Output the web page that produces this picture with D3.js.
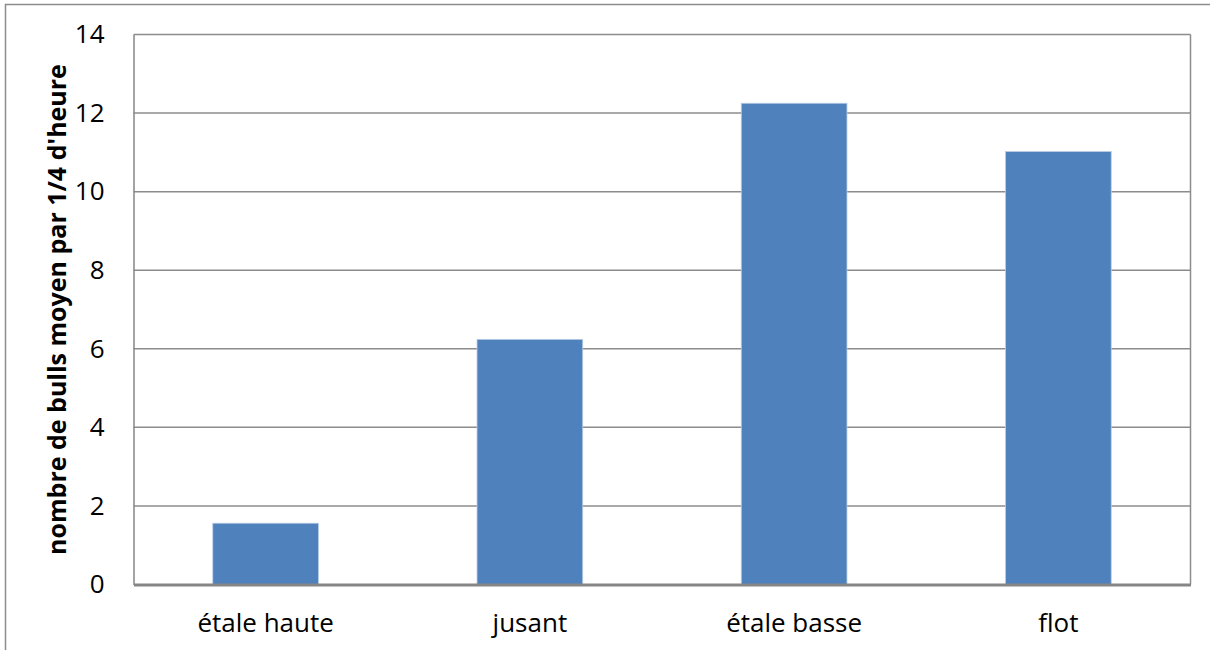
<!DOCTYPE html>
<html>
<head>
<meta charset="utf-8">
<script src="https://cdn.jsdelivr.net/npm/d3@7"></script>
<style>
  html, body { margin: 0; padding: 0; background: #fff; }
  svg { display: block; }
  text { font-family: "Open Sans", Lato, sans-serif; fill: #000; }
</style>
</head>
<body>
<svg id="chart" width="1210" height="650"></svg>
<script>
// Mean number of bulls per quarter hour, by tide phase
const categories = ["étale haute", "jusant", "étale basse", "flot"];
const values = [1.56, 6.24, 12.25, 11.02];
const yTicks = [0, 2, 4, 6, 8, 10, 12, 14];
const yTitle = "nombre de bulls moyen par 1/4 d'heure";

const svg = d3.select("#chart");
const W = 1210, H = 650;
const plot = { left: 133.5, right: 1190.5, top: 34.5, bottom: 584.5 };
const font = "'Open Sans', Lato, sans-serif";

// outer chart frame
svg.append("rect")
  .attr("x", 5.5).attr("y", 4.5)
  .attr("width", W + 10).attr("height", H + 10)
  .attr("fill", "none").attr("stroke", "#8c8c8c").attr("stroke-width", 1.5);

const x = d3.scaleBand()
  .domain(categories)
  .range([plot.left, plot.right])
  .paddingInner(0.6)
  .paddingOuter(0.3);

const y = d3.scaleLinear().domain([0, 14]).range([plot.bottom, plot.top]);

// horizontal gridlines
svg.append("g")
  .selectAll("line")
  .data(yTicks.filter(d => d > 0))
  .join("line")
  .attr("x1", plot.left).attr("x2", plot.right)
  .attr("y1", d => y(d)).attr("y2", d => y(d))
  .attr("stroke", "#8c8c8c").attr("stroke-width", 1.5);

// plot area right side
svg.append("line")
  .attr("x1", plot.right).attr("x2", plot.right)
  .attr("y1", plot.top).attr("y2", plot.bottom)
  .attr("stroke", "#8c8c8c").attr("stroke-width", 1.5);

// bars
svg.append("g")
  .selectAll("rect")
  .data(values)
  .join("rect")
  .attr("x", (d, i) => x(categories[i]))
  .attr("y", d => y(d))
  .attr("width", x.bandwidth())
  .attr("height", d => y(0) - y(d))
  .attr("fill", "#4f81bd")
  .attr("stroke", "#b9cde5").attr("stroke-width", 0.8);

// y axis
const yAxis = svg.append("g")
  .attr("transform", `translate(${plot.left},0)`)
  .call(d3.axisLeft(y).tickValues(yTicks).tickSize(0).tickPadding(29).tickFormat(d3.format("d")));
yAxis.select(".domain").attr("stroke", "#868686").attr("stroke-width", 1.5);
yAxis.selectAll("text")
  .attr("font-size", 26).attr("font-family", font).attr("fill", "#000");

// x axis
const xAxis = svg.append("g")
  .attr("transform", `translate(0,${plot.bottom})`)
  .call(d3.axisBottom(x).tickSize(0).tickPadding(29));
xAxis.select(".domain").attr("stroke", "#868686").attr("stroke-width", 3);
xAxis.selectAll("text")
  .attr("font-size", 26).attr("font-family", font).attr("fill", "#000");

// y axis title
svg.append("text")
  .attr("transform", `translate(66,${(plot.top + plot.bottom) / 2}) rotate(-90)`)
  .attr("text-anchor", "middle")
  .attr("font-size", 25)
  .attr("font-weight", "bold")
  .text(yTitle);
</script>
</body>
</html>
